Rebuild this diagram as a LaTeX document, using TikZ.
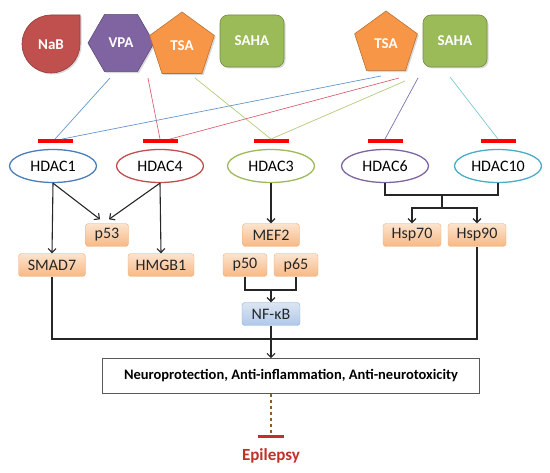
\documentclass[tikz,border=0pt]{standalone}
\usepackage{fontspec}
\setmainfont{Carlito}
\usetikzlibrary{shapes.geometric,arrows.meta,shadows,math}
\definecolor{nabred}{RGB}{192,80,77}
\definecolor{vpapurple}{RGB}{128,100,162}
\definecolor{tsaorange}{RGB}{247,150,70}
\definecolor{sahagreen}{RGB}{155,187,89}
\definecolor{hblue}{RGB}{74,126,187}
\definecolor{hred}{RGB}{192,80,77}
\definecolor{hgreen}{RGB}{155,187,89}
\definecolor{hpurple}{RGB}{128,100,162}
\definecolor{hcyan}{RGB}{75,172,198}
\definecolor{lblue}{RGB}{100,150,205}
\definecolor{lred}{RGB}{220,100,112}
\definecolor{lgreen}{RGB}{180,203,125}
\definecolor{lpurple}{RGB}{125,110,180}
\definecolor{lcyan}{RGB}{125,200,212}
\definecolor{genetop}{RGB}{252,228,206}
\definecolor{genebot}{RGB}{247,184,132}
\definecolor{genedraw}{RGB}{240,175,125}
\definecolor{nftop}{RGB}{220,230,242}
\definecolor{nfbot}{RGB}{175,200,235}
\definecolor{nfdraw}{RGB}{140,170,215}
\definecolor{epired}{RGB}{192,50,40}
\definecolor{dashbrown}{RGB}{150,90,40}

\begin{document}
\begin{tikzpicture}[x=1pt,y=-1pt,
  drug/.style={draw=#1!75!black,fill=#1,line width=0.6,
    drop shadow={opacity=0.3,shadow xshift=1.5pt,shadow yshift=-1.5pt}},
  druglabel/.style={text=white,font=\fontsize{15}{17}\selectfont\bfseries},
  hdac/.style={ellipse,draw=#1,line width=1.3,minimum width=87,minimum height=33,
    inner sep=0,font=\fontsize{16}{18}\selectfont},
  gene/.style={draw=genedraw,rounded corners=3,top color=genetop,bottom color=genebot,
    minimum height=23,minimum width=#1,inner sep=0,font=\fontsize{16}{18}\selectfont,
    text=black!85},
  inhbar/.style={fill=red,minimum width=35,minimum height=3.5,inner sep=0},
  link/.style={draw=#1,line width=0.7},
  arr/.style={-{Straight Barb[length=4pt,width=8pt]},line width=1.1,black!85},
  line/.style={line width=1.1,black!85}]
\tikzmath{
\yd=43;
\yb=141;
\yh=166;
\yg=235;
\yk=265;
}
\useasboundingbox (0,0) rectangle (550,473);

% inhibitors
\fill[drug=nabred] (80,44) arc[start angle=0,end angle=270,radius=29] -- (80,15) -- cycle;
\node[druglabel] (nab) at (51,45) {NaB};
\node[drug=vpapurple,regular polygon,regular polygon sides=6,minimum size=66,inner sep=0,druglabel] (vpa) at (121,\yd) {VPA};
\node[drug=tsaorange,regular polygon,regular polygon sides=5,minimum size=68,inner sep=0,druglabel] (tsaa) at (182,46) {TSA};
\node[drug=sahagreen,rounded corners=8,minimum width=64,minimum height=52,druglabel] (sahaa) at (252,41) {SAHA};
\node[drug=tsaorange,regular polygon,regular polygon sides=5,minimum size=66,inner sep=0,druglabel] (tsab) at (386,44) {TSA};
\node[drug=sahagreen,rounded corners=8,minimum width=64,minimum height=52,druglabel] (sahab) at (455,41) {SAHA};

% HDACs
\node[hdac=hblue] (h1) at (53,\yh) {HDAC1};
\node[hdac=hred] (h4) at (160,\yh) {HDAC4};
\node[hdac=hgreen] (h3) at (271,\yh) {HDAC3};
\node[hdac=hpurple] (h6) at (385,\yh) {HDAC6};
\node[hdac=hcyan] (h10) at (498,\yh) {HDAC10};
\node[inhbar] (b1) at (55,\yb) {};
\node[inhbar] (b4) at (160,\yb) {};
\node[inhbar] (b3) at (271,\yb) {};
\node[inhbar] (b6) at (385,\yb) {};
\node[inhbar] (b10) at (498,\yb) {};

\coordinate (vo) at (110,78);
\coordinate (ro) at (148,78);
\coordinate (go) at (195,78);
\coordinate (bo) at (381,76);
\coordinate (rb) at (399,78);
\coordinate (gb) at (405,81);
\coordinate (pb) at (418,78);
\coordinate (cb) at (450,77);
\draw[link=lblue] (vo) -- (b1.north);
\draw[link=lred] (ro) -- (b4.north);
\draw[link=lgreen] (go) -- (b3.north);
\draw[link=lblue] (bo) -- ([xshift=7pt]b1.north);
\draw[link=lred] (rb) -- ([xshift=10pt]b4.north);
\draw[link=lgreen] (gb) -- (b3.north);
\draw[link=lpurple] (pb) -- (b6.north);
\draw[link=lcyan] (cb) -- (b10.north);

% targets
\node[gene=43] (p53) at (107,\yg) {p53};
\node[gene=67] (smad7) at (52,\yk) {SMAD7};
\node[gene=66] (hmgb1) at (161,\yk) {HMGB1};
\node[gene=57] (mef2) at (271,\yg) {MEF2};
\node[gene=44] (p50) at (245,\yk) {p50};
\node[gene=44] (p65) at (296,\yk) {p65};
\node[gene=58,draw=nfdraw,top color=nftop,bottom color=nfbot] (nfkb) at (271,314) {NF-κB};
\node[gene=58] (hsp70) at (412,\yg) {Hsp70};
\node[gene=58] (hsp90) at (477,\yg) {Hsp90};

\draw[arr] (h1.south) -- (smad7.north);
\draw[arr] (h1.south) -- ([xshift=-7pt,yshift=4pt]p53.north);
\draw[arr] (h4.south) -- ([xshift=2pt,yshift=4pt]p53.north);
\draw[arr] (h4.south) -- (hmgb1.north);
\draw[arr] (h3.south) -- (mef2.north);

\coordinate (j1) at (271,290);
\draw[line] (p50.south) |- (j1) -| (p65.south);
\draw[arr] (j1) -- (nfkb.north);

\coordinate (j2) at (442,195);
\coordinate (j3) at (442,208);
\draw[line] (h6.south) |- (j2) -| (h10.south);
\draw[line] (j2) -- (j3);
\draw[arr] (j3) -| (hsp70.north);
\draw[arr] (j3) -| (hsp90.north);

% outcome
\node[draw=black!65,line width=0.8,minimum width=377,minimum height=35,
  font=\fontsize{14.5}{17}\selectfont\bfseries] (effect) at (291,376)
  {Neuroprotection, Anti-inflammation, Anti-neurotoxicity};
\coordinate (j4) at (271,339);
\draw[line] (smad7.south) |- (j4) -| (hsp90.south);
\draw[line] (nfkb.south) -- (j4);
\draw[arr] (j4) -- (j4 |- effect.north);

\node[fill=epired,minimum width=26,minimum height=3,inner sep=0] (eb) at (271,437) {};
\draw[dashed,dashbrown,line width=1.3] (effect.south -| eb) -- (eb.north);
\node[text=epired,font=\fontsize{17}{19}\selectfont\bfseries] (epi) at (271,456) {Epilepsy};
\end{tikzpicture}
\end{document}
